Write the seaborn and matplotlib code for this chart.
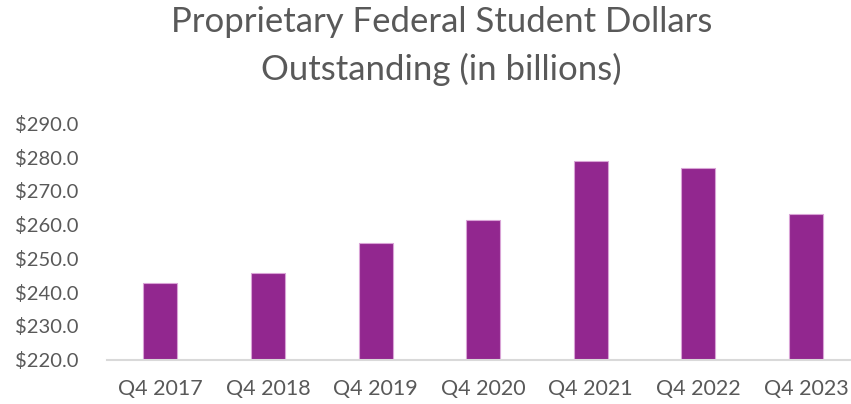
import numpy as np
import pandas as pd
import matplotlib
matplotlib.use("Agg")
import matplotlib.pyplot as plt
import seaborn as sns

# Chart data
quarters = ["Q4 2017", "Q4 2018", "Q4 2019", "Q4 2020", "Q4 2021", "Q4 2022", "Q4 2023"]
dollars = [242.8, 245.5, 254.4, 261.3, 278.7, 276.7, 263.0]
y_ticks = [220, 230, 240, 250, 260, 270, 280, 290]

df = pd.DataFrame({"Quarter": quarters, "Dollars": dollars})

sns.set_style("white")
plt.rcParams['font.family'] = ['Lato', 'DejaVu Sans']

fig = plt.figure(figsize=(8.51, 4.04), dpi=100)
ax = fig.add_axes([106.5 / 851, 44.5 / 404, 753.3 / 851, 236.2 / 404])

sns.barplot(x="Quarter", y="Dollars", data=df, color="#92278F",
            width=0.316, edgecolor="#d9a3d6", linewidth=0.8,
            saturation=1, ax=ax)

ax.set_ylim(220, 290)
ax.set_xlim(-0.5, 6.5)
ax.set_yticks(y_ticks)
ax.set_yticklabels([f"${v:.1f}" for v in y_ticks])
ax.set_xlabel("")
ax.set_ylabel("")
ax.tick_params(axis="both", length=0, colors="#595959")
ax.tick_params(axis="x", pad=14, labelsize=15.5)
ax.tick_params(axis="y", pad=20, labelsize=14.5)

for s in ["top", "right", "left"]:
    ax.spines[s].set_visible(False)
ax.spines["bottom"].set_color("#d9d9d9")
ax.spines["bottom"].set_linewidth(1.5)

fig.text(0.519, 0.945, "Proprietary Federal Student Dollars", ha="center", va="center",
         fontsize=25, color="#595959")
fig.text(0.519, 0.828, "Outstanding (in billions)", ha="center", va="center",
         fontsize=25, color="#595959")

fig.savefig("out.png", dpi=100, facecolor="white")
